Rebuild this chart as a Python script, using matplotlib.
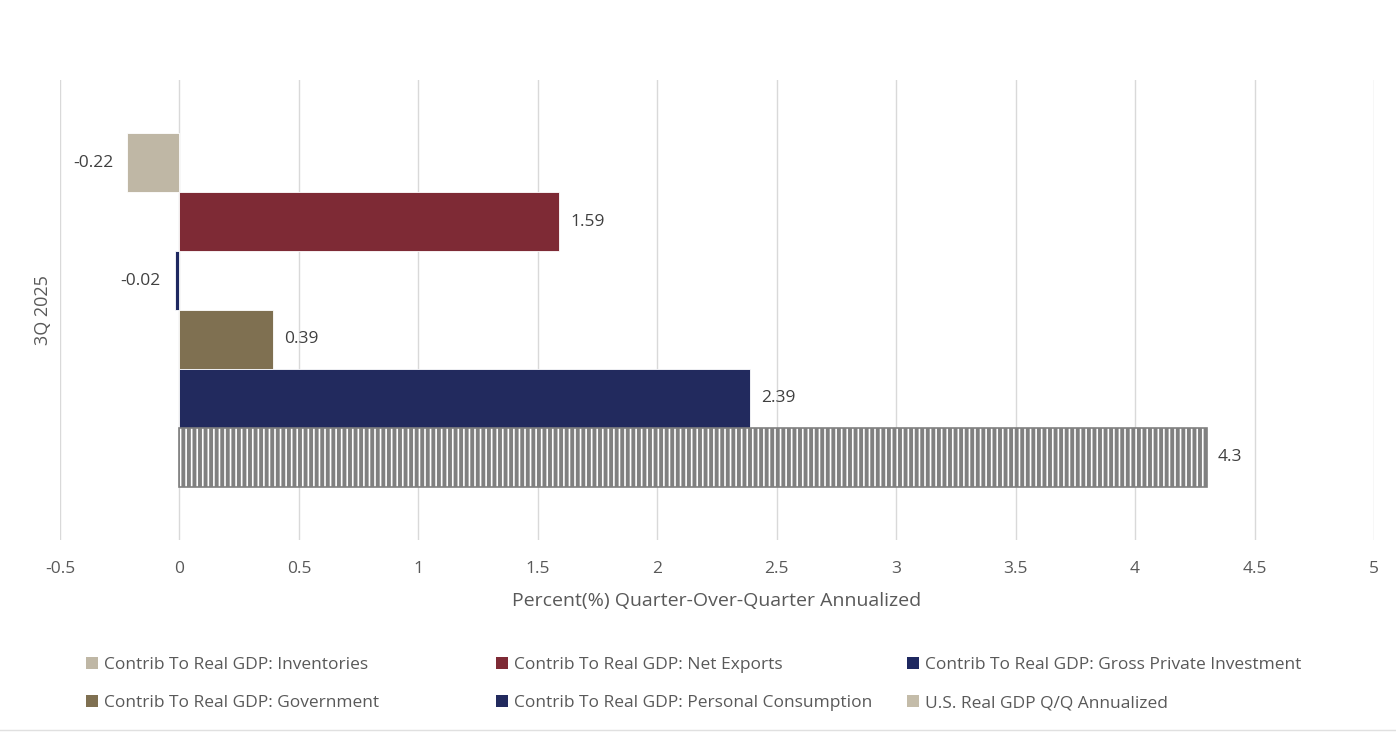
import matplotlib
matplotlib.use("Agg")
import matplotlib.pyplot as plt
from matplotlib.patches import Patch
from matplotlib.lines import Line2D

plt.rcParams['font.family'] = ['Open Sans', 'DejaVu Sans']
plt.rcParams['hatch.linewidth'] = 1.2

# data, top to bottom as drawn
series = [
    "Contrib To Real GDP: Inventories",
    "Contrib To Real GDP: Net Exports",
    "Contrib To Real GDP: Gross Private Investment",
    "Contrib To Real GDP: Government",
    "Contrib To Real GDP: Personal Consumption",
    "U.S. Real GDP Q/Q Annualized",
]
values = [-0.22, 1.59, -0.02, 0.39, 2.39, 4.3]
labels = ["-0.22", "1.59", "-0.02", "0.39", "2.39", "4.3"]
colors = ["#BFB7A5", "#7E2A35", "#1E2860", "#7F7051", "#222A5E", "#808080"]
legend_colors = ["#BFB7A5", "#7E2A35", "#1E2860", "#7F7051", "#222A5E", "#C4BCA9"]
xticks = [-0.5, 0, 0.5, 1, 1.5, 2, 2.5, 3, 3.5, 4, 4.5, 5]
category = "3Q 2025"

text_col = "#595959"

fig = plt.figure(figsize=(13.96, 7.32), dpi=100)
ax = fig.add_axes([60 / 1396, 1 - 540 / 732, 1314 / 1396, 460 / 732])

for i, (v, c) in enumerate(zip(values, colors)):
    if i == len(values) - 1:
        # gray bar with white vertical stripes
        ax.barh(i, v, height=1.0, color=c, edgecolor="white", hatch="|||", linewidth=0, zorder=3)
        ax.barh(i, v, height=1.0, fill=False, edgecolor=c, linewidth=1.2, zorder=4)
    else:
        ax.barh(i, v, height=1.0, color=c, edgecolor="white", linewidth=0.6, zorder=3)

for i, (v, t) in enumerate(zip(values, labels)):
    if v < 0:
        ax.annotate(t, (v, i), xytext=(-10, 0), textcoords="offset points",
                    ha="right", va="center", fontsize=12.5, color="#404040")
    else:
        ax.annotate(t, (v, i), xytext=(8, 0), textcoords="offset points",
                    ha="left", va="center", fontsize=12.5, color="#404040")

ax.set_xlim(-0.5, 5)
ax.set_ylim(5.5 + 0.9, -0.5 - 0.9)
ax.set_xticks(xticks)
ax.set_xticklabels([f"{x:g}" for x in xticks])
ax.set_yticks([])
ax.grid(axis="x", color="#D9D9D9", linewidth=1, zorder=0)
for s in ax.spines.values():
    s.set_visible(False)
ax.tick_params(axis="x", length=0, labelsize=12.5, colors=text_col, pad=15)
ax.set_xlabel("Percent(%) Quarter-Over-Quarter Annualized", fontsize=14, color=text_col, labelpad=11)
ax.set_ylabel(category, fontsize=13, color=text_col, labelpad=6)

# legend: three columns, placed separately
handles = [Patch(facecolor=c, edgecolor="none") for c in legend_colors]
col_x = [86, 496, 907]
for k in range(3):
    idx = [k, k + 3]
    fig.legend([handles[j] for j in idx], [series[j] for j in idx],
               loc="upper left", bbox_to_anchor=(col_x[k] / 1396, 1 - 657 / 732),
               borderaxespad=0, borderpad=0, frameon=False, fontsize=12.5,
               labelcolor=text_col, handlelength=0.7, handleheight=0.7,
               handletextpad=0.35, labelspacing=1.25)

fig.add_artist(Line2D([0, 1], [1 - 730 / 732] * 2, color="#E0E0E0", linewidth=1))

fig.savefig("out.png", dpi=100)
